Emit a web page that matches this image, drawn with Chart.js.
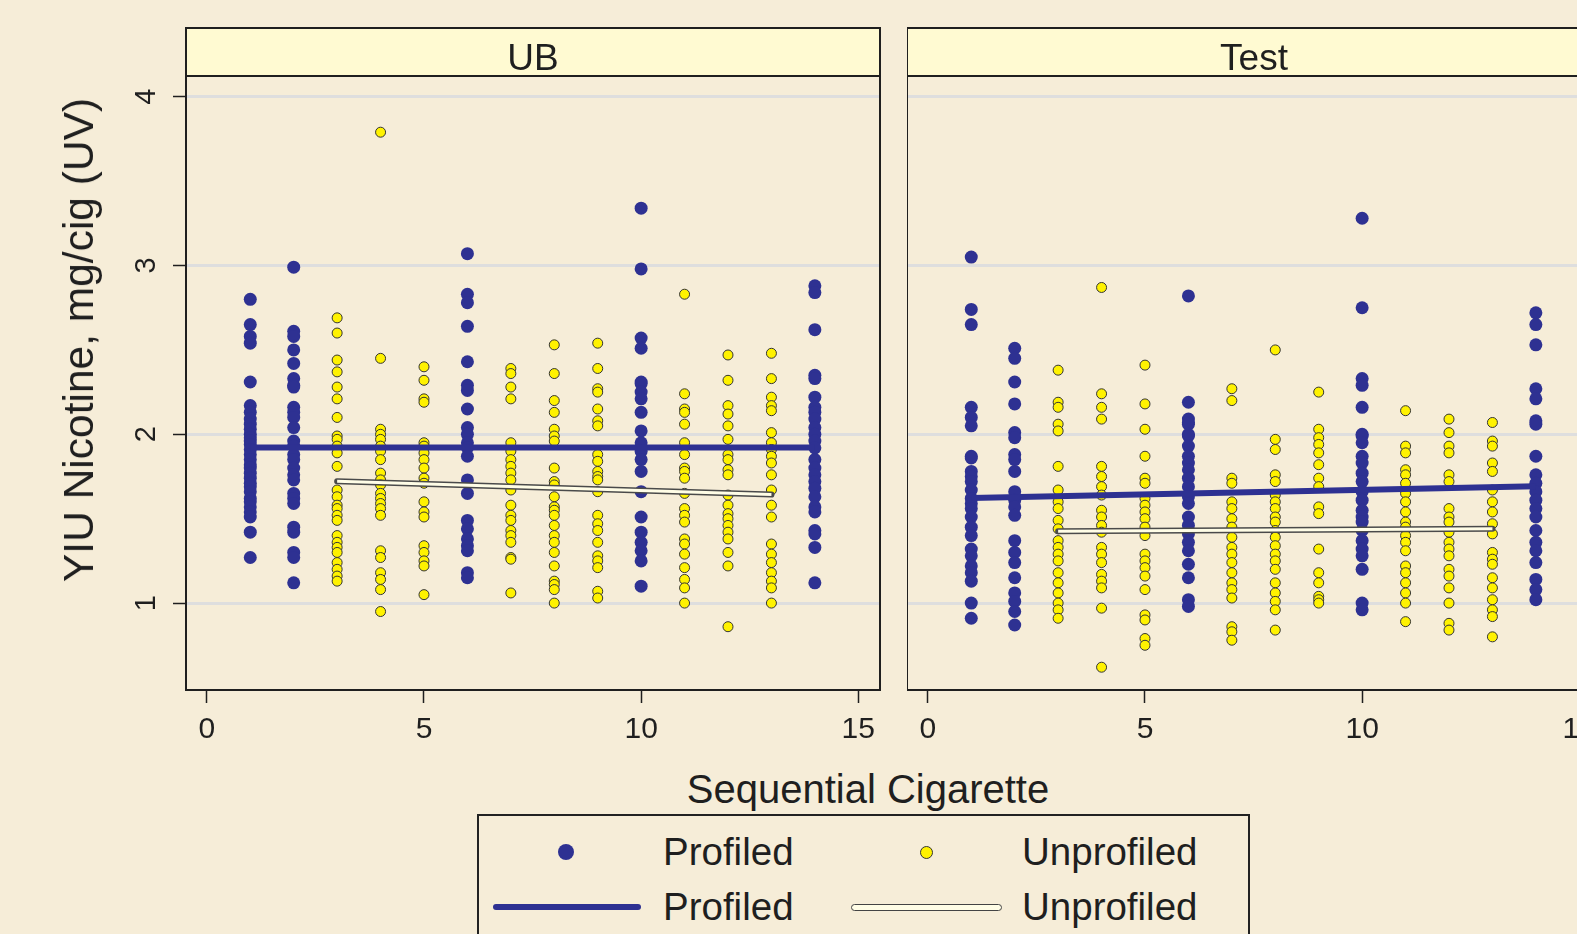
<!DOCTYPE html>
<html>
<head>
<meta charset="utf-8">
<script src="https://cdn.jsdelivr.net/npm/chart.js@4.4.1/dist/chart.umd.min.js"></script>
<style>
  html, body { margin: 0; padding: 0; }
  body {
    position: relative;
    width: 1577px;
    height: 934px;
    overflow: hidden;
    background: #F6EDD8;
    font-family: "Liberation Sans", Arial, Helvetica, sans-serif;
    color: #1f1f1f;
  }
  canvas { position: absolute; top: 0; }
  #ubChart { left: 0; }
  #testChart { left: 907px; }
  .ytitle {
    position: absolute; left: 78.5px; top: 340px;
    transform: translate(-50%, -50%) rotate(-90deg);
    font-size: 42.5px; line-height: 42px; white-space: nowrap;
  }
  .xtitle {
    position: absolute; left: 568px; width: 600px; top: 769px;
    text-align: center; font-size: 40px; line-height: 40px; white-space: nowrap;
  }
  #legend {
    position: absolute; left: 477px; top: 814px; width: 773px; height: 140px;
    box-sizing: border-box; border: 2px solid #222;
  }
  .sw { position: absolute; box-sizing: border-box; }
  .lt { position: absolute; font-size: 38.5px; line-height: 38px; white-space: nowrap; }
</style>
</head>
<body>
<canvas id="ubChart" width="900" height="760"></canvas>
<canvas id="testChart" width="720" height="760"></canvas>

<div class="ytitle">YIU Nicotine, mg/cig (UV)</div>
<div class="xtitle">Sequential Cigarette</div>

<div id="legend"></div>
<div class="sw" style="left:558px;top:844px;width:16px;height:16px;border-radius:50%;background:#2E3192"></div>
<div class="lt" style="left:663px;top:833px">Profiled</div>
<div class="sw" style="left:920px;top:845.5px;width:13px;height:13px;border-radius:50%;background:#FFF200;border:1px solid #333"></div>
<div class="lt" style="left:1022px;top:833px">Unprofiled</div>
<div class="sw" style="left:493px;top:904px;width:148px;height:6px;border-radius:3px;background:#2E3192"></div>
<div class="lt" style="left:663px;top:888px">Profiled</div>
<div class="sw" style="left:851px;top:903.5px;width:151px;height:7px;border-radius:4px;background:#FFFDE6;border:1.5px solid #444"></div>
<div class="lt" style="left:1022px;top:888px">Unprofiled</div>

<script>
// cigarette numbers per smoking pattern
const profiledCigs = [1, 2, 6, 10, 14];
const unprofiledCigs = [3, 4, 5, 7, 8, 9, 11, 12, 13];

// UB panel, one array per cigarette
const ubProfiled = [
  [2.80, 2.65, 2.58, 2.54, 2.31, 2.17, 2.13, 2.09, 2.06, 2.03, 2.00, 1.98, 1.96, 1.94, 1.91, 1.88, 1.85, 1.82, 1.80, 1.77, 1.74, 1.71, 1.69, 1.66, 1.62, 1.60, 1.57, 1.54, 1.51, 1.42, 1.27],
  [2.99, 2.61, 2.58, 2.50, 2.42, 2.33, 2.29, 2.28, 2.16, 2.13, 2.10, 2.04, 1.96, 1.93, 1.88, 1.85, 1.80, 1.76, 1.73, 1.65, 1.62, 1.59, 1.45, 1.42, 1.30, 1.27, 1.12],
  [3.07, 2.83, 2.78, 2.64, 2.43, 2.29, 2.26, 2.15, 2.04, 2.00, 1.95, 1.92, 1.87, 1.73, 1.65, 1.49, 1.44, 1.38, 1.34, 1.31, 1.18, 1.15],
  [3.34, 2.98, 2.57, 2.51, 2.31, 2.30, 2.25, 2.21, 2.13, 2.02, 1.95, 1.90, 1.85, 1.78, 1.66, 1.51, 1.42, 1.36, 1.31, 1.25, 1.10],
  [2.88, 2.84, 2.62, 2.35, 2.33, 2.22, 2.16, 2.13, 2.09, 2.04, 2.00, 1.96, 1.92, 1.85, 1.80, 1.76, 1.72, 1.68, 1.63, 1.57, 1.54, 1.43, 1.41, 1.33, 1.12],
];
const ubUnprofiled = [
  [2.69, 2.60, 2.44, 2.37, 2.28, 2.21, 2.10, 1.99, 1.97, 1.93, 1.89, 1.81, 1.67, 1.63, 1.58, 1.56, 1.52, 1.49, 1.40, 1.36, 1.33, 1.30, 1.24, 1.20, 1.16, 1.13],
  [3.79, 2.45, 2.03, 2.00, 1.97, 1.93, 1.90, 1.85, 1.77, 1.73, 1.70, 1.65, 1.62, 1.59, 1.56, 1.52, 1.31, 1.27, 1.18, 1.14, 1.08, 0.95],
  [2.40, 2.32, 2.21, 2.19, 1.95, 1.93, 1.89, 1.85, 1.80, 1.74, 1.71, 1.60, 1.54, 1.51, 1.34, 1.30, 1.25, 1.22, 1.05],
  [2.39, 2.36, 2.28, 2.21, 1.95, 1.90, 1.85, 1.81, 1.77, 1.73, 1.67, 1.58, 1.52, 1.49, 1.43, 1.40, 1.36, 1.27, 1.26, 1.06],
  [2.53, 2.36, 2.20, 2.13, 2.03, 1.99, 1.96, 1.80, 1.72, 1.70, 1.63, 1.57, 1.55, 1.52, 1.46, 1.40, 1.36, 1.30, 1.22, 1.13, 1.11, 1.08, 1.00],
  [2.54, 2.39, 2.27, 2.25, 2.15, 2.08, 2.05, 1.88, 1.84, 1.78, 1.75, 1.73, 1.66, 1.52, 1.47, 1.43, 1.36, 1.28, 1.25, 1.21, 1.07, 1.03],
  [2.83, 2.24, 2.15, 2.13, 2.06, 1.95, 1.88, 1.80, 1.78, 1.74, 1.65, 1.56, 1.52, 1.48, 1.38, 1.35, 1.29, 1.21, 1.14, 1.09, 1.00],
  [2.47, 2.32, 2.17, 2.12, 2.05, 1.97, 1.88, 1.85, 1.79, 1.76, 1.64, 1.58, 1.53, 1.50, 1.46, 1.42, 1.38, 1.30, 1.22, 0.86],
  [2.48, 2.33, 2.22, 2.17, 2.14, 2.01, 1.95, 1.91, 1.87, 1.83, 1.76, 1.67, 1.58, 1.51, 1.35, 1.29, 1.24, 1.18, 1.13, 1.09, 1.00],
];

// Test panel
const testProfiled = [
  [3.05, 2.74, 2.65, 2.16, 2.10, 2.05, 1.87, 1.86, 1.78, 1.75, 1.72, 1.67, 1.62, 1.59, 1.56, 1.51, 1.45, 1.40, 1.32, 1.28, 1.22, 1.18, 1.13, 1.00, 0.91],
  [2.51, 2.45, 2.31, 2.18, 2.01, 1.98, 1.88, 1.85, 1.78, 1.66, 1.61, 1.57, 1.52, 1.37, 1.30, 1.24, 1.15, 1.06, 1.01, 0.95, 0.87],
  [2.82, 2.19, 2.09, 2.07, 2.06, 2.00, 1.99, 1.93, 1.87, 1.83, 1.79, 1.74, 1.69, 1.63, 1.59, 1.51, 1.46, 1.41, 1.36, 1.31, 1.23, 1.15, 1.02, 0.98],
  [3.28, 2.75, 2.33, 2.29, 2.16, 2.00, 1.99, 1.95, 1.87, 1.83, 1.77, 1.72, 1.66, 1.61, 1.55, 1.51, 1.48, 1.43, 1.37, 1.32, 1.28, 1.20, 1.00, 0.96],
  [2.72, 2.65, 2.53, 2.27, 2.21, 2.08, 2.06, 1.87, 1.76, 1.71, 1.66, 1.61, 1.56, 1.51, 1.43, 1.36, 1.31, 1.24, 1.14, 1.08, 1.02],
];
const testUnprofiled = [
  [2.38, 2.19, 2.16, 2.06, 2.02, 1.81, 1.67, 1.60, 1.56, 1.49, 1.44, 1.37, 1.33, 1.29, 1.25, 1.18, 1.12, 1.06, 1.00, 0.96, 0.91],
  [2.87, 2.24, 2.16, 2.09, 1.81, 1.75, 1.69, 1.64, 1.55, 1.51, 1.46, 1.42, 1.33, 1.29, 1.24, 1.17, 1.13, 1.09, 0.97, 0.62],
  [2.41, 2.18, 2.03, 1.87, 1.74, 1.71, 1.62, 1.58, 1.54, 1.50, 1.45, 1.40, 1.29, 1.25, 1.21, 1.16, 1.08, 0.93, 0.90, 0.79, 0.75],
  [2.27, 2.20, 1.74, 1.71, 1.60, 1.56, 1.50, 1.45, 1.39, 1.33, 1.29, 1.24, 1.18, 1.12, 1.08, 1.03, 0.86, 0.83, 0.78],
  [2.50, 1.97, 1.91, 1.76, 1.72, 1.64, 1.60, 1.56, 1.51, 1.48, 1.43, 1.39, 1.34, 1.29, 1.25, 1.20, 1.12, 1.06, 1.01, 0.96, 0.84],
  [2.25, 2.03, 1.98, 1.94, 1.89, 1.82, 1.74, 1.69, 1.57, 1.53, 1.32, 1.18, 1.12, 1.04, 1.02, 1.00],
  [2.14, 1.93, 1.89, 1.79, 1.76, 1.71, 1.65, 1.60, 1.54, 1.48, 1.45, 1.40, 1.36, 1.31, 1.22, 1.18, 1.12, 1.06, 1.00, 0.89],
  [2.09, 2.01, 1.93, 1.89, 1.76, 1.72, 1.56, 1.51, 1.48, 1.42, 1.36, 1.32, 1.28, 1.20, 1.16, 1.09, 1.00, 0.88, 0.84],
  [2.07, 1.96, 1.93, 1.83, 1.78, 1.67, 1.60, 1.54, 1.47, 1.41, 1.30, 1.26, 1.23, 1.15, 1.09, 1.02, 0.96, 0.92, 0.80],
];

// linear fits, value at first and last cigarette
const fitProfiledX = [1, 14];
const fitUnprofiledX = [3, 13];
const ubFitProfiled = [1.922, 1.922];
const ubFitUnprofiled = [1.722, 1.643];
const testFitProfiled = [1.623, 1.692];
const testFitUnprofiled = [1.425, 1.441];

const xTicks = [0, 5, 10, 15];
const yTicks = [1, 2, 3, 4];

const FONT = '"Liberation Sans", Arial, Helvetica, sans-serif';
const NAVY = '#2E3192';
const YELLOW = '#FFF200';
const INK = '#1f1f1f';

function columnPoints(cigs, cols) {
  return cigs.flatMap((c, i) => cols[i].map((v) => ({ x: c, y: v })));
}
function fitPoints(xs, ys) {
  return xs.map((x, i) => ({ x, y: ys[i] }));
}

// draws the label strip and the plot frame like a by() graph
const panelFrame = {
  id: 'panelFrame',
  beforeDraw(chart, _args, opts) {
    const { ctx, chartArea: a } = chart;
    ctx.save();
    ctx.fillStyle = '#FFFAD2';
    ctx.fillRect(a.left, opts.stripTop, a.right - a.left, a.top - opts.stripTop);
    ctx.restore();
  },
  afterDraw(chart, _args, opts) {
    const { ctx, chartArea: a } = chart;
    ctx.save();
    ctx.strokeStyle = INK;
    ctx.lineWidth = 2;
    ctx.strokeRect(a.left, opts.stripTop, a.right - a.left, a.top - opts.stripTop);
    ctx.strokeRect(a.left, a.top, a.right - a.left, a.bottom - a.top);
    ctx.restore();
  },
};

function makePanel(canvasId, name, profiled, unprofiled, fitP, fitU, showY, rightPad) {
  const canvas = document.getElementById(canvasId);
  return new Chart(canvas, {
    type: 'scatter',
    data: {
      datasets: [
        { // unprofiled fit, light core
          data: fitPoints(fitUnprofiledX, fitU),
          showLine: true, pointRadius: 0, borderColor: '#FFFDE6', borderWidth: 3, order: 0,
        },
        { // unprofiled fit, dark outline
          data: fitPoints(fitUnprofiledX, fitU),
          showLine: true, pointRadius: 0, borderColor: '#4a4a4a', borderWidth: 6, borderCapStyle: 'round', order: 1,
        },
        {
          data: fitPoints(fitProfiledX, fitP),
          showLine: true, pointRadius: 0, borderColor: NAVY, borderWidth: 6, order: 2,
        },
        {
          data: columnPoints(unprofiledCigs, unprofiled),
          pointRadius: 5, pointBackgroundColor: YELLOW, pointBorderColor: '#333', pointBorderWidth: 1, order: 3,
        },
        {
          data: columnPoints(profiledCigs, profiled),
          pointRadius: 6.5, pointBackgroundColor: NAVY, pointBorderColor: NAVY, pointBorderWidth: 0, order: 4,
        },
      ],
    },
    plugins: [panelFrame],
    options: {
      responsive: false,
      animation: false,
      events: [],
      // no automatic padding: the panels must line up with the reference frame
      layout: { autoPadding: false, padding: { top: 28, left: 0, right: rightPad, bottom: 0 } },
      scales: {
        x: {
          type: 'linear',
          min: -0.48,
          max: 15.5,
          afterBuildTicks: (s) => { s.ticks = xTicks.map((v) => ({ value: v })); },
          afterFit: (s) => { s.height = 70; s.paddingLeft = 0; s.paddingRight = 0; },
          border: { display: false },
          grid: { drawOnChartArea: false, tickLength: 13, tickColor: INK, tickWidth: 1.5 },
          ticks: { padding: 9, minRotation: 0, maxRotation: 0, color: INK, font: { family: FONT, size: 30 } },
        },
        y: {
          min: 0.485,
          max: 4.123,
          afterBuildTicks: (s) => { s.ticks = yTicks.map((v) => ({ value: v })); },
          afterFit: (s) => { s.width = showY ? 186 : 0; },
          border: { display: false },
          grid: { color: '#DEDEDE', lineWidth: 3, drawTicks: showY, tickLength: 13, tickColor: INK, tickWidth: 1.5 },
          ticks: {
            display: showY, minRotation: 90, maxRotation: 90, crossAlign: 'center', padding: 18,
            color: INK, font: { family: FONT, size: 29 },
          },
        },
      },
      plugins: {
        legend: { display: false },
        tooltip: { enabled: false },
        title: {
          display: true,
          fullSize: false,
          text: name,
          color: INK,
          font: { family: FONT, size: 37, weight: 'normal', lineHeight: '32px' },
          padding: { top: 16, bottom: 0 },
        },
        panelFrame: { stripTop: 28 },
      },
    },
  });
}

makePanel('ubChart', 'UB', ubProfiled, ubUnprofiled, ubFitProfiled, ubFitUnprofiled, true, 20);
makePanel('testChart', 'Test', testProfiled, testUnprofiled, testFitProfiled, testFitUnprofiled, false, 26);
</script>
</body>
</html>
